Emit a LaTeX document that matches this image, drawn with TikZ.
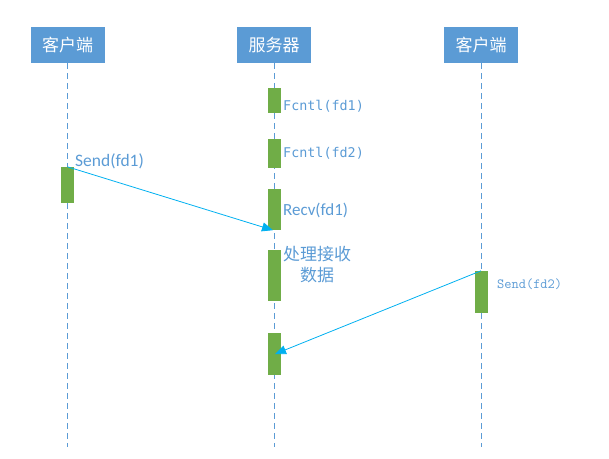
\documentclass[tikz,border=0pt]{standalone}
\usepackage{fontspec}
\setmainfont{Carlito}
\newfontfamily\cjk{Noto Sans CJK SC}
\newfontfamily\mono{DejaVu Sans Mono}
\usetikzlibrary{arrows.meta}
\definecolor{headblue}{HTML}{5B9BD5}
\definecolor{bargreen}{HTML}{70AD47}
\definecolor{msgcyan}{HTML}{00B0F0}

\begin{document}
\begin{tikzpicture}[
        x=1pt, y=-1pt,
        head/.style={
            fill=headblue,
            text=white,
            minimum width=74pt,
            minimum height=36pt,
            inner sep=0pt,
            font=\cjk\fontsize{17}{19}\selectfont
        },
        lifeline/.style={
            draw=headblue,
            line width=0.9pt,
            dash pattern=on 6pt off 4pt
        },
        bar/.style={
            fill=bargreen,
            minimum width=13pt,
            inner sep=0pt
        },
        message/.style={
            draw=msgcyan,
            line width=0.8pt,
            -{Triangle[length=11pt,width=9pt]}
        },
        label/.style={
            text=headblue,
            anchor=west,
            inner sep=0pt
        }
    ]
        \useasboundingbox (0,0) rectangle (609,458);

        % header boxes
        \node[head] (client1) at (67.5,45) {客户端};
        \node[head] (server)  at (274,45)  {服务器};
        \node[head] (client2) at (481,45)  {客户端};

        % lifelines
        \coordinate (end1) at (67.5,447);
        \coordinate (end2) at (274,447);
        \coordinate (end3) at (481,447);
        \draw[lifeline] (client1.south) -- (end1);
        \draw[lifeline] (server.south)  -- (end2);
        \draw[lifeline] (client2.south) -- (end3);

        % activation bars
        \node[bar, minimum height=25pt] (fcntl1) at (274,100.5) {};
        \node[bar, minimum height=29pt] (fcntl2) at (274,153)   {};
        \node[bar, minimum height=41pt] (recv)   at (274,209.5) {};
        \node[bar, minimum height=51pt] (handle) at (274,275.5) {};
        \node[bar, minimum height=42pt] (recv2)  at (274,354)   {};
        \node[bar, minimum height=36pt] (send1)  at (67.5,185)  {};
        \node[bar, minimum height=42pt] (send2)  at (481,292)   {};

        % labels
        \node[label, font=\mono\fontsize{13.4}{15}\selectfont] (lfcntl1) at (283,106) {Fcntl(fd1)};
        \node[label, font=\mono\fontsize{13.4}{15}\selectfont] (lfcntl2) at (283,153) {Fcntl(fd2)};
        \node[label, font=\fontsize{17}{20}\selectfont] (lrecv) at (283,210) {Recv(fd1)};
        \node[text=headblue, align=center, inner sep=0pt,
              font=\cjk\fontsize{17}{21}\selectfont] (lhandle) at (317,265) {处理接收\\数据};
        \node[label, font=\fontsize{17.5}{20}\selectfont] (lsend1) at (75,161) {Send(fd1)};
        \node[label, font=\ttfamily\fontsize{14}{16}\selectfont] (lsend2) at (497,284) {Send(fd2)};

        % messages
        \draw[message] (send1.north) -- ([xshift=-1pt]recv.south);
        \draw[message] (send2.north) -- ([xshift=1pt]recv2.center);
\end{tikzpicture}
\end{document}
